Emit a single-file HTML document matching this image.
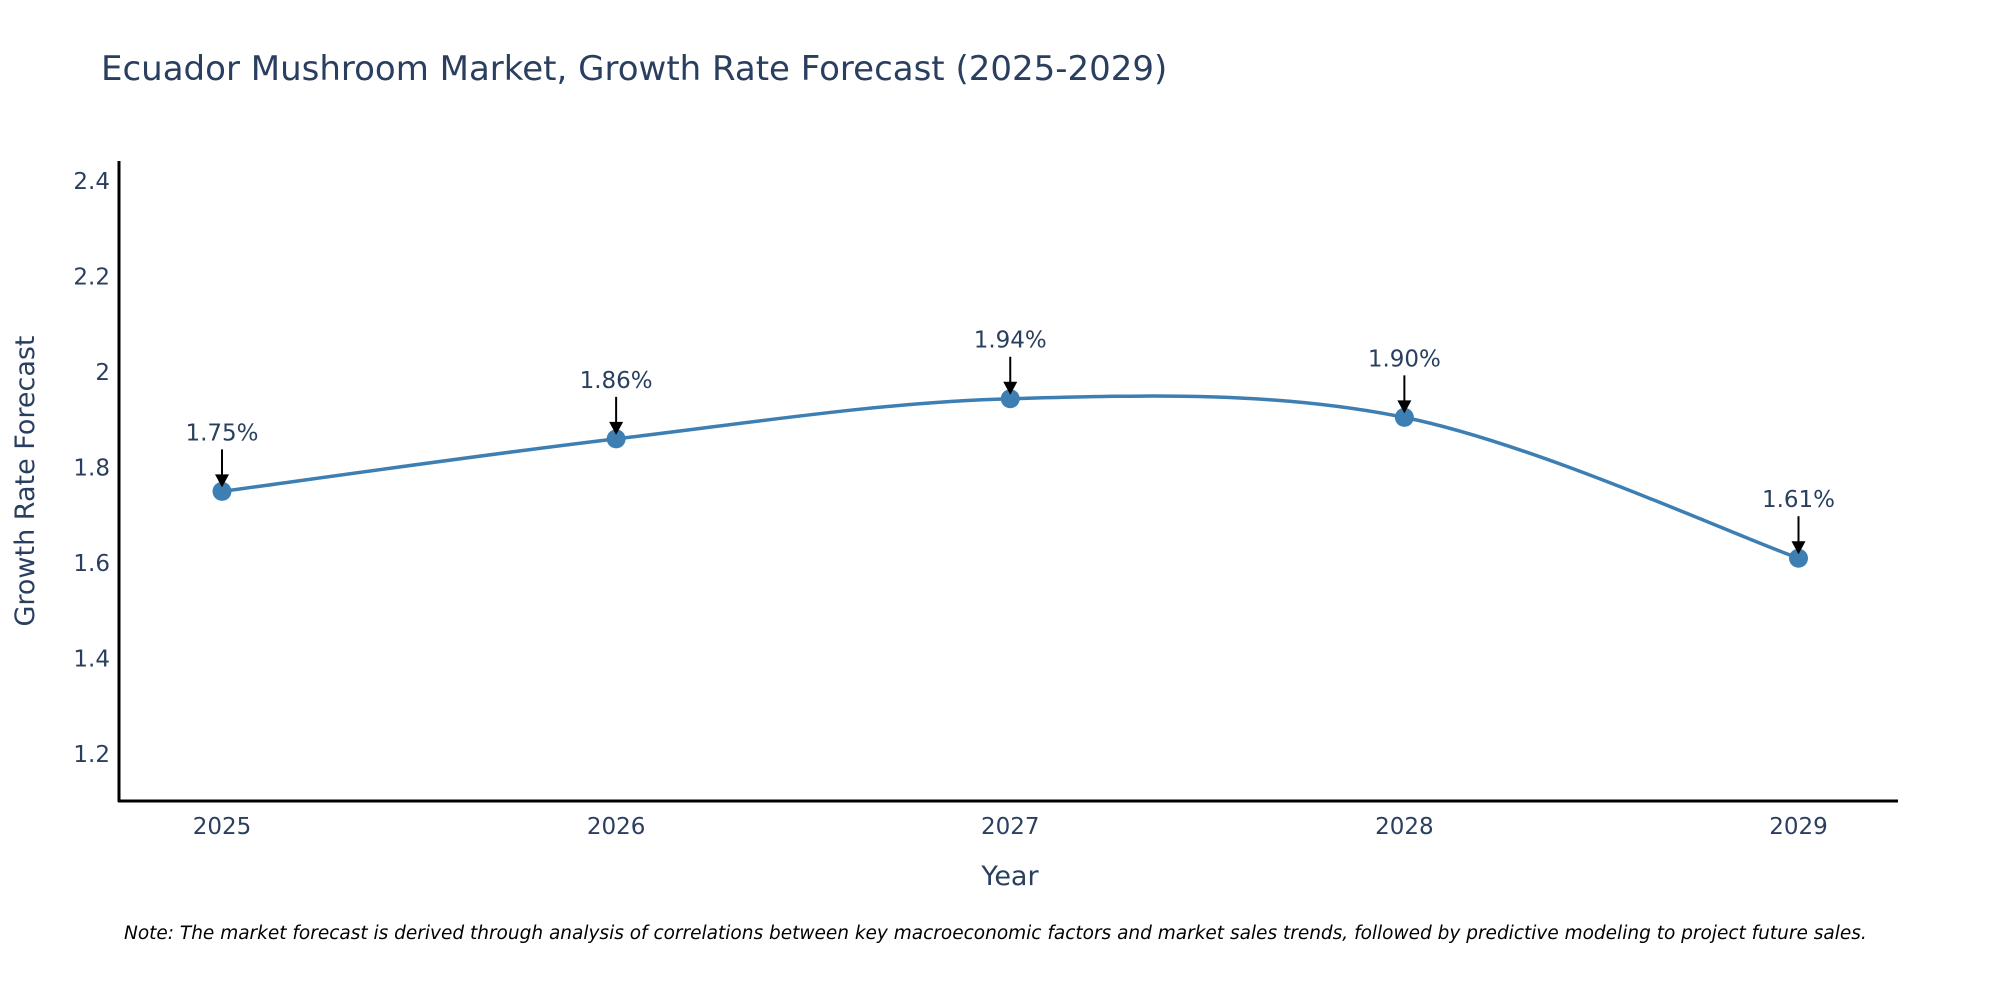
<!DOCTYPE html>
<html><head><meta charset="utf-8"><style>
body{margin:0;background:#fff;}
svg text{font-family:"DejaVu Sans","Liberation Sans",sans-serif;fill:#2a3f5f;}
</style></head><body>
<svg id="chart" width="2000" height="1000" xmlns="http://www.w3.org/2000/svg">
<text x="101" y="80" font-size="34">Ecuador Mushroom Market, Growth Rate Forecast (2025-2029)</text>
<g id="yticks"></g>
<g id="xticks"></g>
<line x1="119" y1="161" x2="119" y2="802" stroke="#000" stroke-width="3"/>
<line x1="118" y1="801" x2="1898" y2="801" stroke="#000" stroke-width="3"/>
<path id="line" fill="none" stroke="#3d7fb3" stroke-width="3.5"/>
<g id="points"></g>
<g id="annots"></g>
<text transform="translate(34,481) rotate(-90)" text-anchor="middle" font-size="27">Growth Rate Forecast</text>
<text x="1010" y="885" text-anchor="middle" font-size="27">Year</text>
<text x="124" y="939" font-size="18.5" font-style="italic" style="fill:#000">Note: The market forecast is derived through analysis of correlations between key macroeconomic factors and market sales trends, followed by predictive modeling to project future sales.</text>
</svg>
<script>
const years=[2025,2026,2027,2028,2029];
const values=[1.75,1.86,1.944,1.905,1.61];
const labels=["1.75%","1.86%","1.94%","1.90%","1.61%"];
const yTicks=[1.2,1.4,1.6,1.8,2,2.2,2.4];
const yTickLabels=["1.2","1.4","1.6","1.8","2","2.2","2.4"];
const NS="http://www.w3.org/2000/svg";
function xs(v){return 222+(v-2025)*(1798.5-222)/4;}
function ys(v){return 754-(v-1.2)*(754-181)/1.2;}
function mk(t,a,p){const e=document.createElementNS(NS,t);for(const k in a)e.setAttribute(k,a[k]);p.appendChild(e);return e;}
const yt=document.getElementById('yticks');
yTicks.forEach((v,i)=>{const t=mk('text',{x:110,y:ys(v)+8,'text-anchor':'end','font-size':23},yt);t.textContent=yTickLabels[i];

});
const xt=document.getElementById('xticks');
years.forEach(v=>{const t=mk('text',{x:xs(v),y:834,'text-anchor':'middle','font-size':23},xt);t.textContent=v;

});
const P=years.map((y,i)=>[xs(y),ys(values[i])]);
let d=`M${P[0][0]},${P[0][1]}`;const s=1/6;
for(let i=0;i<P.length-1;i++){const p0=P[Math.max(i-1,0)],p1=P[i],p2=P[i+1],p3=P[Math.min(i+2,P.length-1)];
d+=` C${p1[0]+(p2[0]-p0[0])*s},${p1[1]+(p2[1]-p0[1])*s} ${p2[0]-(p3[0]-p1[0])*s},${p2[1]-(p3[1]-p1[1])*s} ${p2[0]},${p2[1]}`;}
document.getElementById('line').setAttribute('d',d);
const pg=document.getElementById('points'),ag=document.getElementById('annots');
P.forEach((p,i)=>{const c=mk('circle',{cx:p[0],cy:p[1],r:9.5,fill:'#3d7fb3'},pg);


const l=mk('line',{x1:p[0],y1:p[1]-42,x2:p[0],y2:p[1]-14,stroke:'#000','stroke-width':2},ag);


const h=mk('polygon',{points:`${p[0]-7},${p[1]-17} ${p[0]+7},${p[1]-17} ${p[0]},${p[1]-4}`,fill:'#000'},ag);


const t=mk('text',{x:p[0],y:p[1]-51,'text-anchor':'middle','font-size':23},ag);t.textContent=labels[i];

});
</script>
</body></html>
